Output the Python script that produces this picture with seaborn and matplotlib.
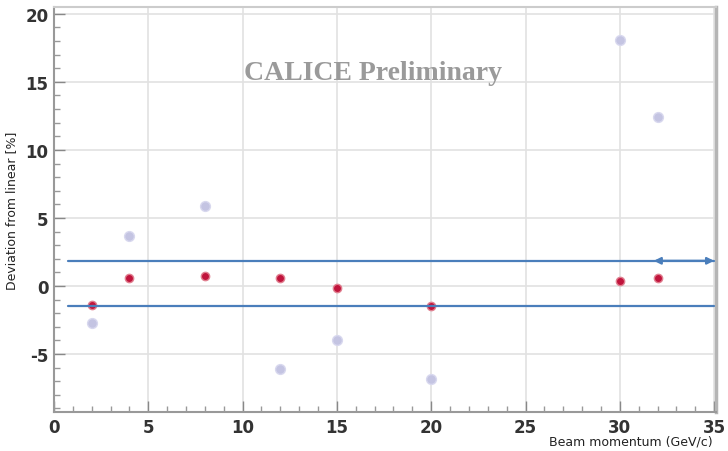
import matplotlib
matplotlib.use("Agg")
import matplotlib.pyplot as plt
from matplotlib.ticker import MultipleLocator
import seaborn as sns
import pandas as pd

# Data
momentum = [2, 4, 8, 12, 15, 20, 30, 32]
dev_raw = [-2.7, 3.65, 5.85, -6.1, -3.95, -6.85, 18.1, 12.4]
dev_corrected = [-1.4, 0.55, 0.7, 0.62, -0.15, -1.47, 0.4, 0.62]
band_levels = [1.85, -1.45]
x_ticks = [0, 5, 10, 15, 20, 25, 30, 35]
y_ticks = [-5, 0, 5, 10, 15, 20]

sns.set_style("white")
plt.rcParams["axes.unicode_minus"] = False

df = pd.DataFrame({
    "momentum": momentum * 2,
    "deviation": dev_raw + dev_corrected,
    "series": ["raw"] * len(momentum) + ["corrected"] * len(momentum),
})

fig = plt.figure(figsize=(7.28, 4.52), dpi=100)
ax = fig.add_axes([54 / 728, 39 / 452, 662 / 728, 405 / 452])

sns.scatterplot(data=df[df.series == "raw"], x="momentum", y="deviation",
                color="#c4c4e2", s=50, edgecolor="#d8d8ee", linewidth=1.0,
                ax=ax, legend=False, zorder=3)
sns.scatterplot(data=df[df.series == "corrected"], x="momentum", y="deviation",
                color="#c0143c", s=36, edgecolor="#e08090", linewidth=1.0,
                ax=ax, legend=False, zorder=4)

ax.set_xlim(0, 35.1)
ax.set_ylim(-9.26, 20.5)
ax.set_xticks(x_ticks)
ax.set_yticks(y_ticks)
ax.xaxis.set_minor_locator(MultipleLocator(1))
ax.yaxis.set_minor_locator(MultipleLocator(1))
ax.tick_params(axis="both", which="major", direction="in", length=8, width=1,
               color="#888888", labelsize=12, labelcolor="#333333", pad=4,
               top=False, right=False, left=True, bottom=True)
ax.tick_params(axis="both", which="minor", direction="in", length=4, width=1,
               color="#999999", left=True, bottom=True)
for lab in ax.get_xticklabels() + ax.get_yticklabels():
    lab.set_fontweight("bold")

ax.grid(True, which="major", color="#e2e2e2", linewidth=1.2)
ax.set_axisbelow(True)

for side, col, lw in [("left", "#999999", 1.5), ("bottom", "#999999", 1.5),
                      ("right", "#b5b5b5", 2.5), ("top", "#cccccc", 1.5)]:
    ax.spines[side].set_visible(True)
    ax.spines[side].set_color(col)
    ax.spines[side].set_linewidth(lw)

ax.set_xlabel("Beam momentum (GeV/c)", fontsize=9, color="#222222")
ax.xaxis.set_label_coords(0.995, -0.055)
ax.xaxis.label.set_horizontalalignment("right")
ax.set_ylabel("Deviation from linear [%]", fontsize=9, color="#222222")
ax.yaxis.set_label_coords(-0.055, 0.5)

ax.text(16.9, 15.7, "CALICE Preliminary", fontsize=20, fontweight="bold",
        family="Liberation Serif", color="#9a9a9a", ha="center", va="center")

for yv in band_levels:
    ax.plot([0.75, 35.0], [yv, yv], color="#4a7ebb", linewidth=1.6, zorder=5)
ax.annotate("", xy=(35.0, band_levels[0]), xytext=(31.8, band_levels[0]),
            arrowprops=dict(arrowstyle="<|-|>", color="#4a7ebb", lw=1.6,
                            mutation_scale=10, shrinkA=0, shrinkB=0),
            zorder=6)

fig.savefig("out.png", dpi=100)
